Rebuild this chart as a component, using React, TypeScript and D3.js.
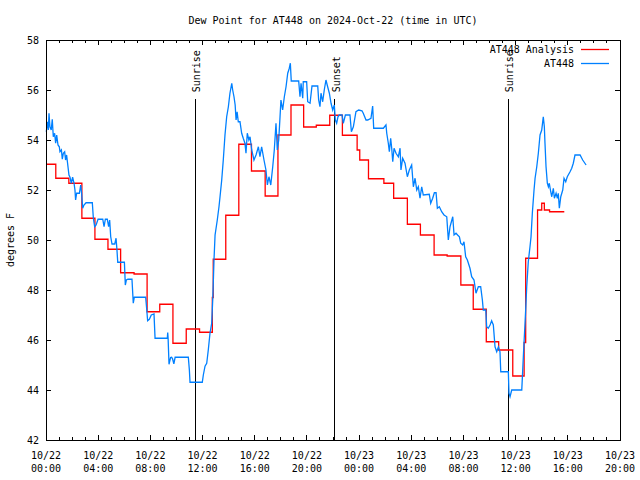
import { curveLinear, curveStepAfter, line, range, scaleLinear } from 'd3'

const title = 'Dew Point for AT448 on 2024-Oct-22 (time in UTC)'
const yLabel = 'degrees F'

const tickDates = ['10/22', '10/22', '10/22', '10/22', '10/22', '10/22', '10/23', '10/23', '10/23', '10/23', '10/23', '10/23']
const tickTimes = ['00:00', '04:00', '08:00', '12:00', '16:00', '20:00', '00:00', '04:00', '08:00', '12:00', '16:00', '20:00']
const yTicks = [42, 44, 46, 48, 50, 52, 54, 56, 58]

// hours since 10/22 00:00 UTC
const sunEvents = [
  { label: 'Sunrise', hour: 11.45 },
  { label: 'Sunset', hour: 22.13 },
  { label: 'Sunrise', hour: 35.44 },
]

const legendNames = ['AT448 Analysis', 'AT448']
const seriesColors = ['#ff0000', '#0080ff']

// [hour, °F]
const analysisSteps: [number, number][] = [
  [0, 53.03], [0.75, 52.47], [1.75, 52.27], [2.75, 50.87], [3.75, 50.03], [4.75, 49.63],
  [5.72, 48.69], [6.75, 48.64], [7.75, 47.13], [8.72, 47.43], [9.73, 45.87], [10.75, 46.44],
  [11.77, 46.31], [12.75, 47.7], [12.82, 49.23], [13.78, 50.99], [14.78, 53.83], [15.75, 52.76],
  [16.8, 51.76], [17.78, 54.2], [18.78, 55.4], [19.75, 54.52], [20.72, 54.59], [21.75, 54.99],
  [22.72, 54.19], [23.85, 53.6], [24.05, 53.2], [24.72, 52.45], [25.9, 52.27], [26.65, 51.67],
  [27.7, 50.63], [28.7, 50.2], [29.75, 49.4], [30.75, 49.36], [31.8, 48.2], [32.75, 47.23],
  [33.75, 45.93], [34.7, 45.6], [35.78, 44.56], [36.65, 45.9], [36.77, 49.27], [37.68, 51.2],
  [38.0, 51.47], [38.2, 51.2], [38.6, 51.13], [39.73, 51.13],
]

const stationPoints: [number, number][] = [
  [0.02, 54.33], [0.13, 54.73], [0.18, 54.4], [0.23, 55.07], [0.3, 54.53], [0.4, 54.4], [0.48, 54.83],
  [0.56, 54.13], [0.66, 54.27], [0.74, 53.87], [0.82, 54.2], [0.92, 53.8], [1.02, 53.73], [1.07, 53.53],
  [1.18, 53.6], [1.25, 53.23], [1.33, 53.47], [1.43, 53.53], [1.5, 53.2], [1.58, 53.4], [1.69, 52.91],
  [1.76, 52.6], [1.84, 52.51], [1.94, 52.27], [2.04, 52.51], [2.15, 52.27], [2.22, 52.0], [2.27, 51.6],
  [2.35, 51.87], [2.56, 51.87], [2.66, 52.2], [2.73, 51.87], [2.81, 51.27], [2.91, 51.4], [3.07, 51.49],
  [3.55, 51.49], [3.63, 50.87], [3.73, 50.53], [3.84, 50.6], [3.99, 50.83], [4.35, 50.83], [4.45, 50.53],
  [4.55, 50.83], [4.7, 50.83], [4.8, 50.53], [4.88, 50.8], [4.96, 50.13], [5.06, 49.84], [5.27, 49.84],
  [5.37, 50.07], [5.44, 49.6], [5.5, 49.11], [6.01, 49.11], [6.08, 48.2], [6.16, 48.4], [6.28, 48.43],
  [6.59, 48.43], [6.69, 47.47], [6.77, 47.71], [7.64, 47.71], [7.72, 47.23], [7.79, 46.77], [7.92, 46.83],
  [8.07, 47.0], [8.28, 47.04], [8.36, 46.07], [9.3, 46.07], [9.33, 46.3], [9.36, 46.07], [9.43, 45.03],
  [9.55, 45.3], [9.63, 45.31], [9.7, 45.25], [9.8, 45.05], [9.9, 45.31], [10.91, 45.31], [10.99, 44.8],
  [11.04, 44.31], [11.98, 44.31], [12.06, 44.6], [12.19, 44.95], [12.32, 45.07], [12.44, 45.6],
  [12.57, 46.27], [12.7, 46.67], [12.78, 47.6], [12.83, 48.4], [12.88, 49.23], [12.96, 50.2], [13.13, 50.8],
  [13.26, 51.33], [13.34, 51.73], [13.47, 52.4], [13.59, 53.2], [13.72, 54.2], [13.85, 54.93], [13.98, 55.33],
  [14.1, 55.87], [14.24, 56.27], [14.31, 56.0], [14.41, 55.73], [14.5, 55.4], [14.57, 54.8], [14.65, 55.13],
  [14.74, 54.73], [14.87, 54.73], [15.0, 54.27], [15.12, 54.07], [15.25, 53.87], [15.33, 53.47],
  [15.43, 54.27], [15.55, 54.0], [15.64, 54.13], [15.77, 53.6], [15.94, 53.2], [16.1, 53.4], [16.28, 53.73],
  [16.4, 53.33], [16.53, 53.73], [16.71, 53.2], [16.86, 52.8], [16.97, 52.2], [17.09, 52.53], [17.23, 52.2],
  [17.38, 52.93], [17.5, 53.6], [17.63, 54.67], [17.73, 53.6], [17.84, 54.0], [17.94, 54.93], [18.01, 55.6],
  [18.14, 55.2], [18.27, 55.73], [18.4, 56.13], [18.53, 56.67], [18.65, 56.87], [18.73, 57.07], [18.8, 56.36],
  [19.37, 56.36], [19.47, 55.73], [19.55, 56.27], [19.68, 55.67], [19.72, 56.33], [19.98, 56.33],
  [20.06, 55.53], [20.24, 55.47], [20.39, 56.16], [20.83, 56.16], [20.9, 55.6], [21.0, 55.33], [21.08, 55.87],
  [21.21, 55.53], [21.33, 56.0], [21.46, 56.4], [21.59, 56.13], [21.72, 55.87], [21.85, 55.47], [21.98, 55.2],
  [22.1, 55.4], [22.18, 54.8], [22.28, 54.67], [22.38, 54.93], [22.48, 55.0], [22.69, 55.0], [22.79, 54.67],
  [22.95, 55.0], [23.3, 55.0], [23.41, 54.33], [23.56, 54.53], [23.76, 55.13], [23.97, 55.2], [24.22, 55.17],
  [24.32, 55.07], [24.53, 54.8], [24.66, 54.8], [24.91, 54.87], [25.04, 55.36], [25.12, 54.47], [25.86, 54.47],
  [26.06, 54.6], [26.12, 54.27], [26.24, 53.87], [26.32, 53.53], [26.42, 54.07], [26.5, 53.67], [26.58, 53.13],
  [26.68, 53.67], [26.83, 53.47], [27.01, 53.33], [27.14, 53.67], [27.21, 52.8], [27.34, 53.27], [27.52, 53.07],
  [27.7, 52.53], [27.85, 52.8], [28.03, 53.0], [28.16, 52.13], [28.29, 52.47], [28.42, 52.0], [28.54, 52.13],
  [28.67, 51.67], [28.8, 52.13], [28.92, 51.8], [29.38, 51.83], [29.49, 51.47], [29.64, 51.67], [29.77, 51.89],
  [29.9, 51.89], [30.0, 51.27], [30.15, 51.33], [30.33, 51.13], [30.51, 51.0], [30.72, 50.93], [30.84, 50.0],
  [30.97, 50.53], [31.18, 50.93], [31.28, 50.2], [31.43, 50.27], [31.55, 50.2], [31.69, 50.13], [31.79, 49.87],
  [31.94, 49.8], [32.04, 49.93], [32.17, 49.33], [32.3, 49.2], [32.5, 48.87], [32.63, 48.53], [32.81, 48.4],
  [32.96, 47.87], [33.14, 48.13], [33.32, 48.13], [33.45, 47.6], [33.52, 47.2], [33.71, 47.2], [33.78, 46.53],
  [33.9, 46.47], [34.04, 46.6], [34.16, 46.77], [34.29, 46.6], [34.42, 45.73], [34.55, 45.53], [34.68, 45.73],
  [34.8, 45.53], [34.86, 44.73], [35.44, 44.73], [35.49, 43.87], [35.57, 43.73], [35.7, 44.0], [36.47, 44.0],
  [36.59, 45.33], [36.77, 47.2], [36.85, 48.13], [36.97, 49.13], [37.1, 49.73], [37.18, 50.13], [37.28, 51.07],
  [37.41, 52.0], [37.49, 52.47], [37.62, 52.93], [37.74, 53.47], [37.87, 54.2], [38.0, 54.4], [38.12, 54.93],
  [38.2, 54.53], [38.25, 53.87], [38.33, 52.93], [38.43, 52.27], [38.51, 52.13], [38.58, 52.27], [38.69, 51.93],
  [38.77, 51.73], [38.89, 52.07], [38.97, 51.67], [39.1, 51.87], [39.2, 51.67], [39.27, 51.87], [39.35, 51.27],
  [39.46, 51.73], [39.61, 52.0], [39.71, 52.47], [39.84, 52.33], [39.96, 52.53], [40.17, 52.73], [40.3, 52.87],
  [40.42, 53.07], [40.55, 53.4], [40.94, 53.4], [41.14, 53.2], [41.4, 53.0],
]

const width = 640
const height = 480
const margin = { top: 40, right: 20, bottom: 40, left: 46 }
const mono = '"DejaVu Sans Mono", "Liberation Mono", monospace'

export default function App() {
  const xScale = scaleLinear()
    .domain([0, 44])
    .range([margin.left, width - margin.right])
  const yScale = scaleLinear()
    .domain([42, 58])
    .range([height - margin.bottom, margin.top])

  const [x0, x1] = xScale.range()
  const [y0, y1] = yScale.range()

  const stepPath = line<[number, number]>()
    .x((d) => xScale(d[0]))
    .y((d) => yScale(d[1]))
    .curve(curveStepAfter)
  const linePath = line<[number, number]>()
    .x((d) => xScale(d[0]))
    .y((d) => yScale(d[1]))
    .curve(curveLinear)

  const majorHours = range(0, 45, 4)
  const minorHours = range(0, 45, 1).filter((h) => h % 4 !== 0)
  const eventTop = yScale(55.63)

  return (
    <svg
      width={width}
      height={height}
      style={{ position: 'absolute', left: 0, top: 0, background: '#fff' }}
      fontFamily={mono}
    >
      <text x={(x0 + x1) / 2} y={24} textAnchor="middle" fontSize={10}>
        {title}
      </text>
      <text
        transform={`translate(14, ${(y0 + y1) / 2}) rotate(-90)`}
        textAnchor="middle"
        fontSize={10}
      >
        {yLabel}
      </text>

      {/* ticks */}
      <g stroke="#000" shapeRendering="crispEdges">
        {majorHours.map((h) => (
          <g key={`mx-${h}`}>
            <line x1={xScale(h)} x2={xScale(h)} y1={y0} y2={y0 - 5} />
            <line x1={xScale(h)} x2={xScale(h)} y1={y1} y2={y1 + 5} />
          </g>
        ))}
        {minorHours.map((h) => (
          <g key={`nx-${h}`}>
            <line x1={xScale(h)} x2={xScale(h)} y1={y0} y2={y0 - 3} />
            <line x1={xScale(h)} x2={xScale(h)} y1={y1} y2={y1 + 3} />
          </g>
        ))}
        {yTicks.map((v) => (
          <g key={`yt-${v}`}>
            <line x1={x0} x2={x0 + 5} y1={yScale(v)} y2={yScale(v)} />
            <line x1={x1} x2={x1 - 5} y1={yScale(v)} y2={yScale(v)} />
          </g>
        ))}
      </g>
      {yTicks.map((v) => (
        <text key={`yl-${v}`} x={x0 - 7} y={yScale(v) + 3.5} textAnchor="end" fontSize={10}>
          {v}
        </text>
      ))}
      {majorHours.map((h, i) => (
        <g key={`lx-${h}`} fontSize={10} textAnchor="middle">
          <text x={xScale(h)} y={y0 + 19}>{tickDates[i]}</text>
          <text x={xScale(h)} y={y0 + 32}>{tickTimes[i]}</text>
        </g>
      ))}

      {/* sunrise / sunset */}
      {sunEvents.map((e, i) => (
        <g key={`ev-${i}`}>
          <line
            x1={xScale(e.hour)}
            x2={xScale(e.hour)}
            y1={eventTop}
            y2={y0}
            stroke="#000"
            shapeRendering="crispEdges"
          />
          <text
            transform={`translate(${xScale(e.hour) + 5}, ${eventTop - 7}) rotate(-90)`}
            fontSize={10}
          >
            {e.label}
          </text>
        </g>
      ))}

      <path d={stepPath(analysisSteps) ?? ''} fill="none" stroke={seriesColors[0]} strokeWidth={1.3} />
      <path d={linePath(stationPoints) ?? ''} fill="none" stroke={seriesColors[1]} strokeWidth={1.3} />

      {/* legend */}
      {legendNames.map((name, i) => (
        <g key={name}>
          <text x={574} y={53 + i * 14} textAnchor="end" fontSize={10}>
            {name}
          </text>
          <line
            x1={581}
            x2={609}
            y1={49.5 + i * 14}
            y2={49.5 + i * 14}
            stroke={seriesColors[i]}
            strokeWidth={1.3}
          />
        </g>
      ))}

      <rect
        x={x0}
        y={y1}
        width={x1 - x0}
        height={y0 - y1}
        fill="none"
        stroke="#000"
        shapeRendering="crispEdges"
      />
    </svg>
  )
}
